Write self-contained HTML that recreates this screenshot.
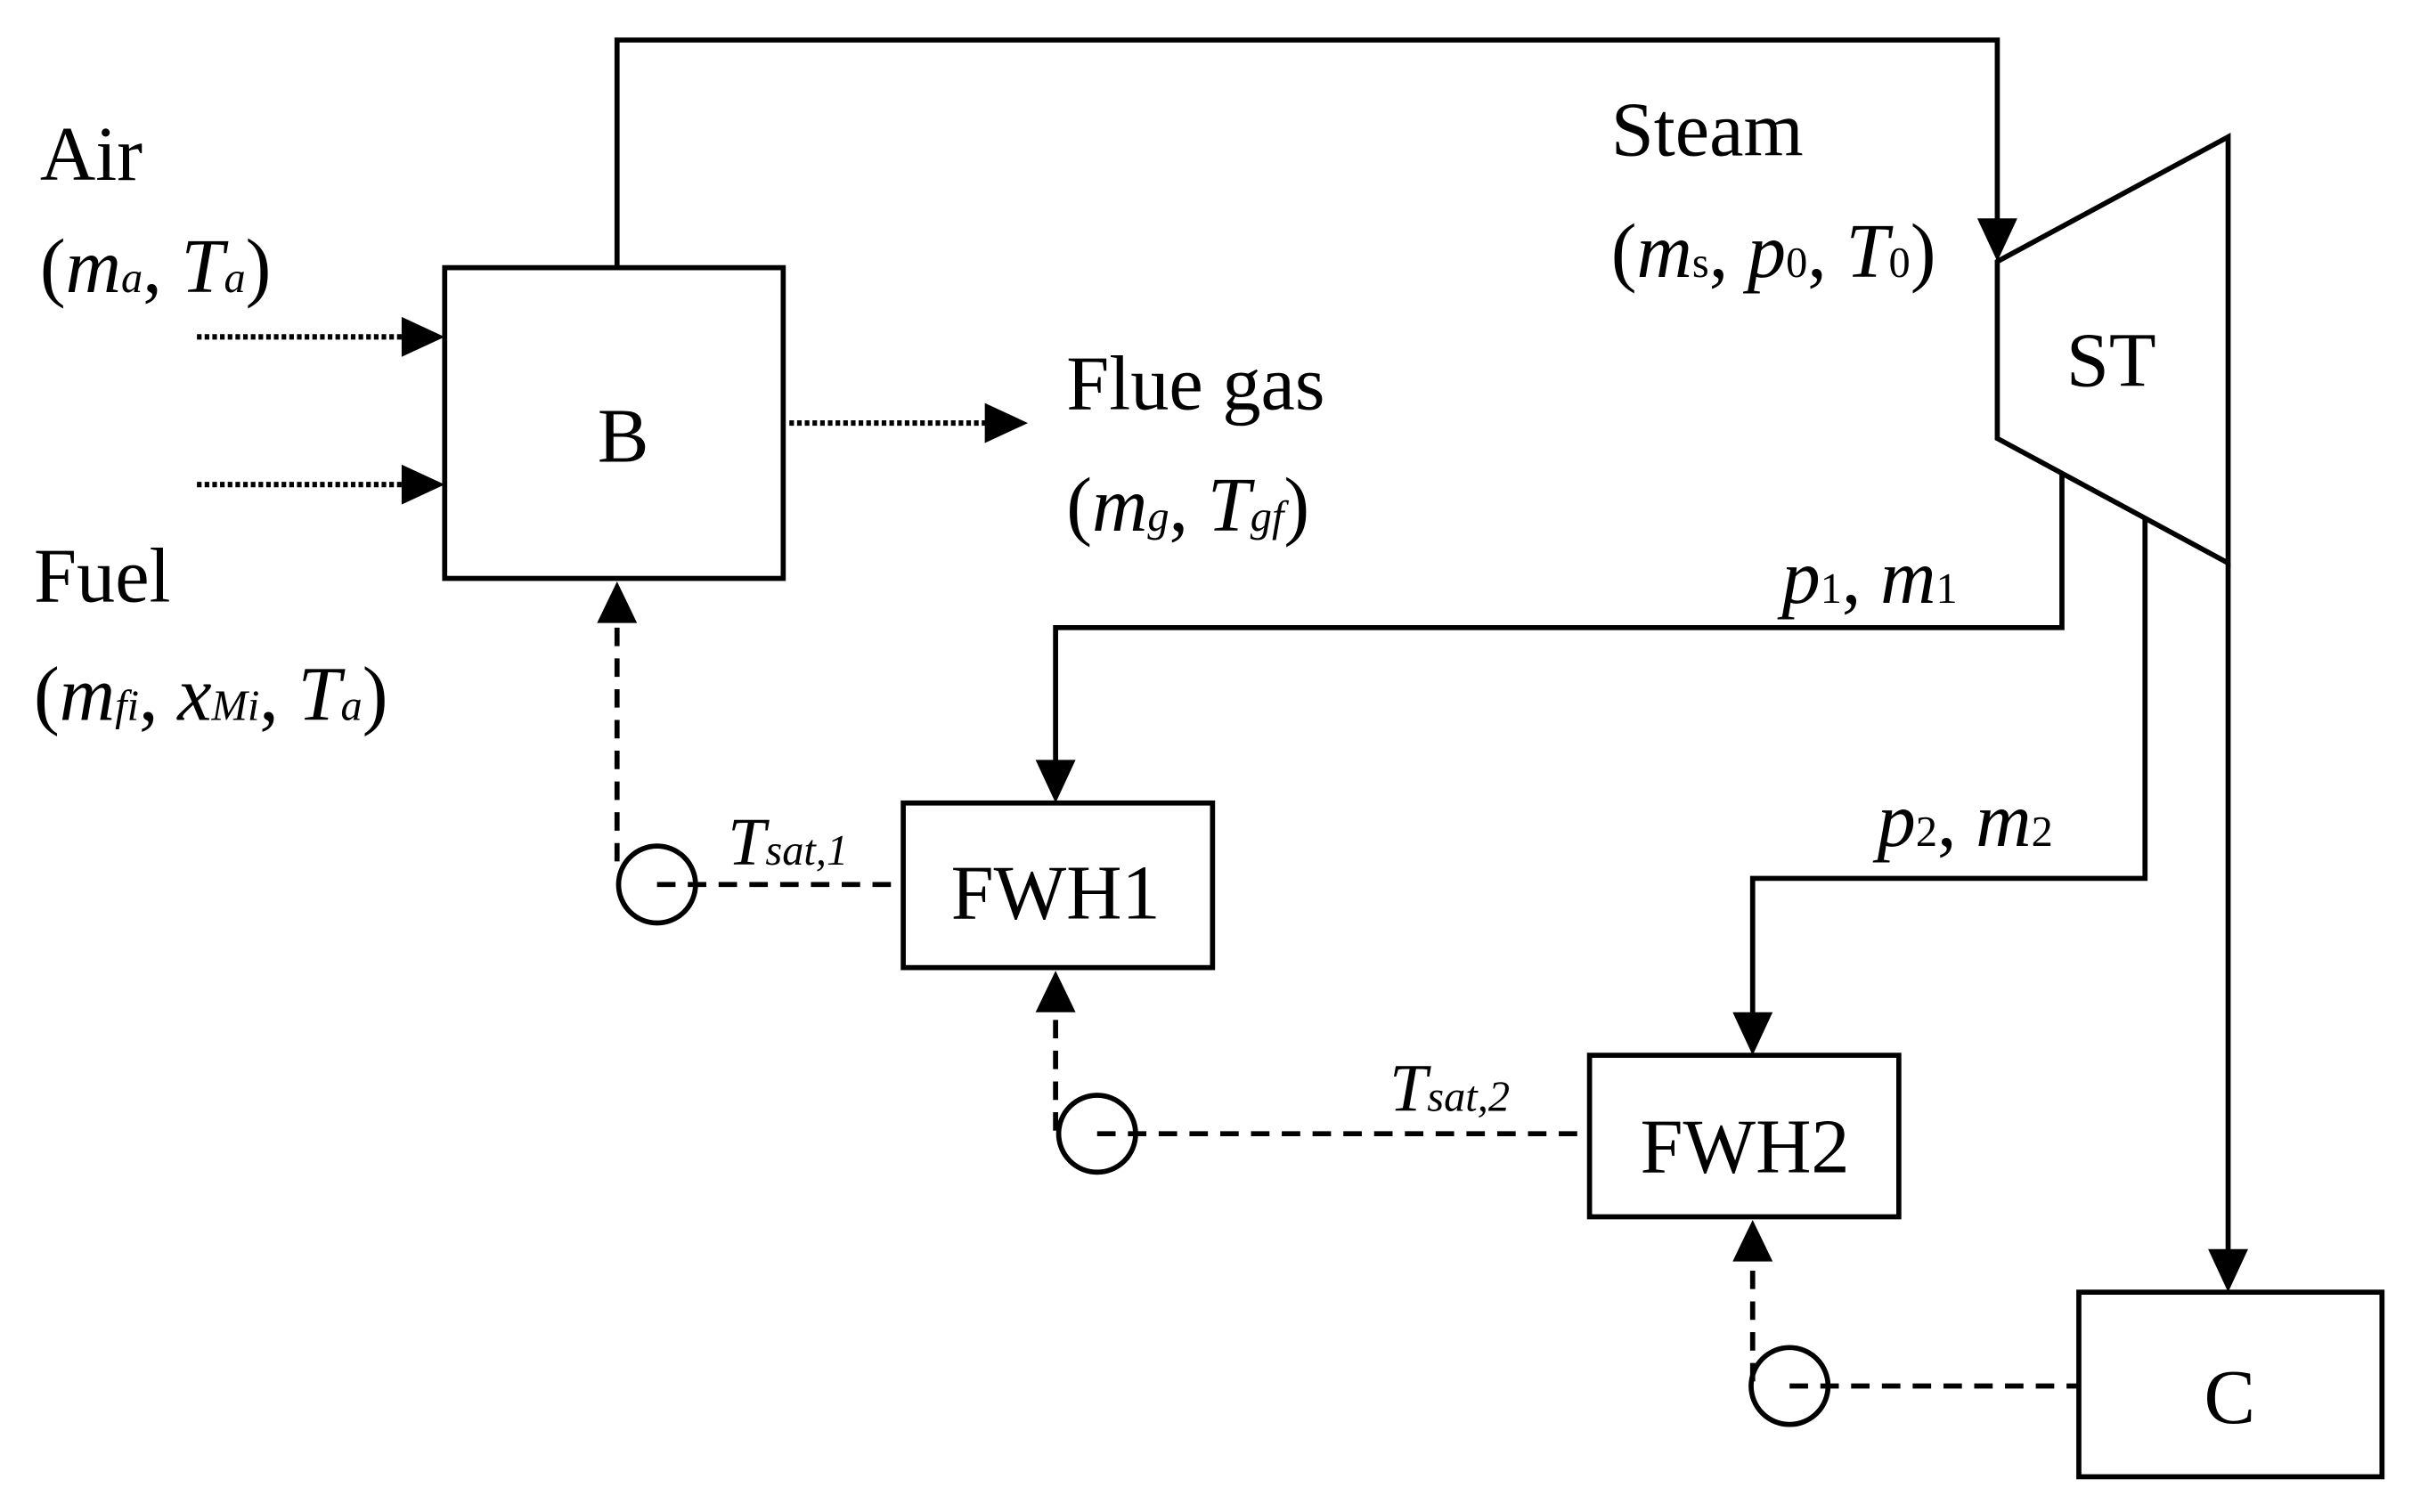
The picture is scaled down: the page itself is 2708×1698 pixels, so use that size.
<!DOCTYPE html>
<html><head><meta charset="utf-8"><style>
html,body{margin:0;padding:0;background:#fff;}
svg{display:block;}
text{font-family:"Liberation Serif",serif;fill:#000;}
.i{font-style:italic;}
</style></head><body>
<svg width="2708" height="1698" viewBox="0 0 1567.5 982.9" preserveAspectRatio="none" xmlns="http://www.w3.org/2000/svg">
<g fill="none" stroke="#000" stroke-width="3.3">
<rect x="289" y="174" width="220" height="202"/>
<polyline points="401,174 401,26 1298,26 1298,145"/>
<polygon points="1298,170 1448,89 1448,366 1298,285"/>
<polyline points="1340,308 1340,408 686,408 686,498"/>
<polyline points="1394,337 1394,571 1139,571 1139,662"/>
<polyline points="1448,366 1448,816"/>
<rect x="587" y="522" width="201" height="107"/>
<rect x="1033" y="686" width="201" height="105"/>
<rect x="1351" y="840" width="197" height="120"/>
<circle cx="427" cy="575" r="25"/>
<circle cx="713" cy="737" r="25"/>
<circle cx="1163" cy="901" r="25"/>
</g>
<g fill="none" stroke="#000" stroke-width="3.5" stroke-dasharray="3,2">
<line x1="128" y1="219" x2="262" y2="219"/>
<line x1="128" y1="315" x2="262" y2="315"/>
<line x1="513" y1="275" x2="641" y2="275"/>
</g>
<g fill="none" stroke="#000" stroke-width="3.3" stroke-dasharray="12,8">
<line x1="401" y1="560" x2="401" y2="405"/>
<line x1="427" y1="575" x2="587" y2="575"/>
<line x1="686" y1="735" x2="686" y2="658"/>
<line x1="713" y1="737" x2="1033" y2="737"/>
<line x1="1139" y1="898" x2="1139" y2="820"/>
<line x1="1163" y1="901" x2="1351" y2="901"/>
</g>
<g fill="#000">
<polygon points="261,206 289,219 261,232"/>
<polygon points="261,302 289,315 261,328"/>
<polygon points="640,262 668,275 640,288"/>
<polygon points="1285,142 1311,142 1298,170"/>
<polygon points="673,494 699,494 686,522"/>
<polygon points="1126,658 1152,658 1139,686"/>
<polygon points="1435,812 1461,812 1448,840"/>
<polygon points="388,405 414,405 401,378"/>
<polygon points="673,658 699,658 686,631"/>
<polygon points="1126,820 1152,820 1139,793"/>
</g>
<g font-size="50">
<text x="26" y="117">Air</text>
<text x="26" y="190">(<tspan class="i">m</tspan><tspan class="i" font-size="28">a</tspan>, <tspan class="i">T</tspan><tspan class="i" font-size="28">a</tspan>)</text>
<text x="22" y="391">Fuel</text>
<text x="22" y="468">(<tspan class="i">m</tspan><tspan class="i" font-size="28">fi</tspan>, <tspan class="i">x</tspan><tspan class="i" font-size="28">Mi</tspan>, <tspan class="i">T</tspan><tspan class="i" font-size="28">a</tspan>)</text>
<text x="1047" y="101">Steam</text>
<text x="1047" y="180">(<tspan class="i">m</tspan><tspan font-size="28">s</tspan>, <tspan class="i">p</tspan><tspan font-size="28">0</tspan>, <tspan class="i">T</tspan><tspan font-size="28">0</tspan>)</text>
<text x="693" y="266">Flue gas</text>
<text x="693" y="345">(<tspan class="i">m</tspan><tspan class="i" font-size="28">g</tspan>, <tspan class="i">T</tspan><tspan class="i" font-size="28">gf</tspan>)</text>
<text x="1158" y="392"><tspan class="i">p</tspan><tspan font-size="28">1</tspan>, <tspan class="i">m</tspan><tspan font-size="28">1</tspan></text>
<text x="1220" y="550"><tspan class="i">p</tspan><tspan font-size="28">2</tspan>, <tspan class="i">m</tspan><tspan font-size="28">2</tspan></text>
<text x="473" y="562" class="i" font-size="44">T<tspan font-size="28">sat,1</tspan></text>
<text x="903" y="722" class="i" font-size="44">T<tspan font-size="28">sat,2</tspan></text>
<text x="405" y="300" text-anchor="middle">B</text>
<text x="1372" y="251" text-anchor="middle">ST</text>
<text x="686" y="597" text-anchor="middle">FWH1</text>
<text x="1134" y="762" text-anchor="middle">FWH2</text>
<text x="1449" y="925" text-anchor="middle">C</text>
</g>
</svg>
</body></html>
